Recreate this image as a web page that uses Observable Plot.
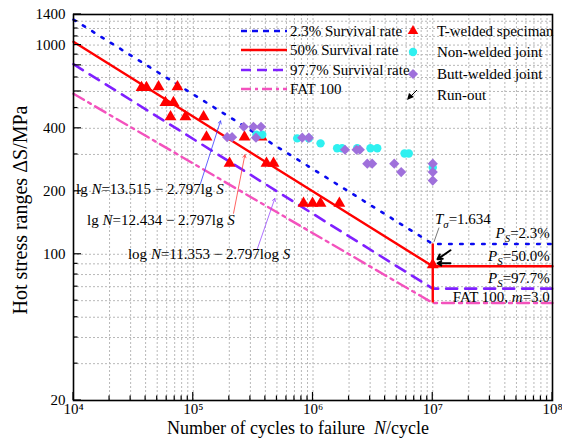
<!DOCTYPE html>
<html><head><meta charset="utf-8">
<script src="https://cdn.jsdelivr.net/npm/d3@7"></script>
<script src="https://cdn.jsdelivr.net/npm/@observablehq/plot@0.6"></script>
<style>
body{margin:0;background:#fff;}
#chart{width:562px;height:442px;}
</style></head><body><div id="chart"></div>
<script>
// ---------- data ----------
const curveN = [1e4, 1e7, 1e8];
const s23 = [1324, 112, 112];
const s50 = [1036, 87.6, 87.6];
const s977 = [810, 68.5, 68.5];
const sFAT = [585, 58.5, 58.5];
const tSigmaN = [1e7], tSigmaTop = [112], tSigmaBottom = [58.5];

const tWeldN = [37000, 40700, 51300, 73800, 58600, 68400, 64600, 86100, 122000, 129000, 268000, 372000, 201000, 409000, 468000, 833000, 991000, 1156000, 1660000, 1e7];
const tWeldS = [626, 626, 631, 631, 531, 531, 454, 454, 454, 363, 363, 363, 272, 272, 272, 175, 175, 175, 175, 89];

const nonWeldN = [337000, 377000, 738000, 923000, 1156000, 1590000, 1750000, 2340000, 3020000, 3440000, 5810000, 6310000, 1e7];
const nonWeldS = [373, 373, 358, 358, 339, 321, 321, 321, 321, 321, 303, 303, 260];

const buttN = [192000, 211000, 264000, 318000, 368000, 334000, 813000, 923000, 1850000, 2310000, 2460000, 2840000, 3120000, 4770000, 5450000, 1e7, 1e7, 1e7];
const buttS = [363, 363, 407, 407, 407, 361, 361, 361, 316, 316, 316, 271, 271, 271, 247, 271, 247, 225];

const runTailN = [1.406e7, 1.406e7], runTailS = [104.5, 90.6];
const runHeadN = [1.096e7, 1.096e7], runHeadS = [94.7, 90.6];

const xTicks = [1e4, 1e5, 1e6, 1e7, 1e8];
const yTicks = [20, 100, 200, 400, 600, 800, 1000, 1400];
const yMinor = [30, 40, 50, 60, 70, 80, 90, 300, 500, 700, 900, 1100, 1200, 1300];

// annotation arrows (tail -> tip) in data units
const annTailN = [115000, 217000, 342000], annTailS = [218, 157, 105.6];
const annTipN = [169000, 270000, 480000], annTipS = [434, 299, 185];
const annColor = ["#3a3aff", "#ff3b3b", "#9a4dff"];

// ---------- build ----------
const sup = {4:"⁴",5:"⁵",6:"⁶",7:"⁷",8:"⁸"};
const xMinor = [];
for (let e = 4; e < 8; e++) for (let k = 2; k <= 9; k++) xMinor.push(k * 10 ** e);
const gridX = xMinor.concat([1e5, 1e6, 1e7]);
const gridY = yMinor.concat(yTicks.filter(d => d > 20 && d < 1400));

const toRows = (xs, ys) => xs.map((N, i) => ({N, S: ys[i]}));
const FONT = "'Liberation Serif','Times New Roman',serif";

const plot = Plot.plot({
  width: 562, height: 442,
  marginLeft: 73, marginRight: 10, marginTop: 14, marginBottom: 42,
  style: {fontFamily: FONT, fontSize: "15px", background: "white", color: "black"},
  x: {type: "log", domain: [1e4, 1e8], ticks: xTicks, tickFormat: d => "10" + sup[Math.round(Math.log10(d))], tickSize: 0, tickPadding: 3, label: null},
  y: {type: "log", domain: [20, 1400], ticks: yTicks, tickFormat: d => String(d), tickSize: 0, tickPadding: 8, label: null},
  marks: [
    Plot.ruleX(gridX, {stroke: "#b8b8b8", strokeWidth: 1, strokeDasharray: "2,2"}),
    Plot.ruleY(gridY, {stroke: "#b8b8b8", strokeWidth: 1, strokeDasharray: "2,2"}),
    Plot.line(toRows(curveN, sFAT), {x: "N", y: "S", stroke: "#f352bd", strokeWidth: 2.4, strokeDasharray: "12,5,3,5"}),
    Plot.line(toRows(curveN, s977), {x: "N", y: "S", stroke: "#7f1fff", strokeWidth: 2.6, strokeDasharray: "11,8"}),
    Plot.line(toRows(curveN, s23), {x: "N", y: "S", stroke: "#0a0af0", strokeWidth: 2.6, strokeDasharray: "2.5,8.5"}),
    Plot.line(toRows(curveN, s50), {x: "N", y: "S", stroke: "#ff0000", strokeWidth: 2.4}),
    Plot.ruleX(tSigmaN.map((N, i) => ({N, top: tSigmaTop[i], bottom: tSigmaBottom[i]})), {x: "N", y1: "top", y2: "bottom", stroke: "#ff0000", strokeWidth: 2.4}),
    Plot.dot(toRows(tWeldN, tWeldS), {x: "N", y: "S", symbol: "triangle", r: 4.4, fill: "#ff0000", stroke: "none"}),
    Plot.dot(toRows(nonWeldN, nonWeldS), {x: "N", y: "S", symbol: "circle", r: 4.2, fill: "#2ff0f0", stroke: "none"}),
    Plot.dot(toRows(buttN, buttS), {x: "N", y: "S", symbol: "diamond2", r: 4.6, fill: "#9f70db", stroke: "none"}),
    Plot.arrow(runTailN.map((N, i) => ({x1: N, y1: runTailS[i], x2: runHeadN[i], y2: runHeadS[i]})), {x1: "x1", y1: "y1", x2: "x2", y2: "y2", stroke: "black", strokeWidth: 2, headLength: 8, bend: false}),
    Plot.arrow(annTailN.map((N, i) => ({x1: N, y1: annTailS[i], x2: annTipN[i], y2: annTipS[i], c: annColor[i]})), {x1: "x1", y1: "y1", x2: "x2", y2: "y2", stroke: "c", strokeWidth: 0.8, headLength: 6, bend: false}),
    Plot.frame({stroke: "black", strokeWidth: 1.6})
  ]
});
document.getElementById("chart").appendChild(plot);

// ---------- decorations through the plot's scales ----------
const svg = d3.select(plot);
const X = plot.scale("x"), Y = plot.scale("y");
const x0 = 73, y0 = 400;

const ticksG = svg.append("g").attr("stroke", "black").attr("stroke-width", 1.2);
xMinor.forEach(v => { const px = X.apply(v); ticksG.append("line").attr("x1", px).attr("x2", px).attr("y1", y0).attr("y2", y0 - 4.5); });
xTicks.forEach(v => { const px = X.apply(v); ticksG.append("line").attr("x1", px).attr("x2", px).attr("y1", y0).attr("y2", y0 - 8); });
yMinor.forEach(v => { const py = Y.apply(v); ticksG.append("line").attr("x1", x0).attr("x2", x0 + 4.5).attr("y1", py).attr("y2", py); });
yTicks.forEach(v => { const py = Y.apply(v); ticksG.append("line").attr("x1", x0).attr("x2", x0 + 8).attr("y1", py).attr("y2", py); });

function rich(x, y, parts, opts = {}) {
  const t = svg.append("text").attr("x", x).attr("y", y)
    .attr("font-family", FONT).attr("font-size", opts.size || 15)
    .attr("fill", "black").attr("text-anchor", opts.anchor || "start");
  if (opts.rotate) t.attr("transform", `rotate(-90,${x},${y})`);
  let shift = 0;
  parts.forEach(p => {
    const [txt, it, sub] = p;
    const s = t.append("tspan").text(txt);
    if (it) s.attr("font-style", "italic");
    const want = sub ? 4 : 0;
    if (want !== shift) { s.attr("dy", want - shift); shift = want; }
    if (sub) s.attr("font-size", (opts.size || 15) * 0.72);
  });
  return t;
}

// equations
rich(X.apply(10590), Y.apply(193.1), [["lg "], ["N", true], ["=13.515 − 2.797lg "], ["S", true]]);
rich(X.apply(13090), Y.apply(137.4), [["lg "], ["N", true], ["=12.434 − 2.797lg "], ["S", true]]);
rich(X.apply(28770), Y.apply(94.7), [["log "], ["N", true], ["=11.353 − 2.797log "], ["S", true]]);

// T sigma
rich(X.apply(1.054e7), Y.apply(138.9), [["T", true], ["σ", true, true], ["=1.634"]]);
svg.append("line").attr("x1", X.apply(1.139e7)).attr("y1", Y.apply(133.4)).attr("x2", X.apply(1.034e7)).attr("y2", Y.apply(114))
  .attr("stroke", "#555").attr("stroke-width", 0.8);

// Ps labels
const psX = X.apply(9.6e7);
rich(psX, Y.apply(119.2), [["P", true], ["S", true, true], ["=2.3%"]], {anchor: "end"});
rich(psX, Y.apply(92.6), [["P", true], ["S", true, true], ["=50.0%"]], {anchor: "end"});
rich(psX, Y.apply(72.8), [["P", true], ["S", true, true], ["=97.7%"]], {anchor: "end"});
rich(psX, Y.apply(59.1), [["FAT 100, "], ["m", true], ["=3.0"]], {anchor: "end"});

// axis titles
rich(298, 434, [["Number of cycles to failure  "], ["N", true], ["/cycle"]], {size: 18, anchor: "middle"});
rich(27, 210, [["Hot stress ranges ΔS/MPa"]], {size: 20, anchor: "middle", rotate: true});

// legend
const lg = svg.append("g").attr("text-anchor", "start");
const lines = [
  {y: 31, c: "#0a0af0", d: "6,5", w: 2.4, t: "2.3% Survival rate"},
  {y: 50, c: "#ff0000", d: null, w: 2.4, t: "50% Survival rate"},
  {y: 70, c: "#7f1fff", d: "10,6", w: 2.6, t: "97.7% Survival rate"},
  {y: 89, c: "#f352bd", d: "10,4,3,4", w: 2.4, t: "FAT 100"}
];
lines.forEach(l => {
  const ln = lg.append("line").attr("x1", 241).attr("x2", 287).attr("y1", l.y).attr("y2", l.y)
    .attr("stroke", l.c).attr("stroke-width", l.w);
  if (l.d) ln.attr("stroke-dasharray", l.d);
  lg.append("text").attr("x", 290).attr("y", l.y + 5).attr("text-anchor", "start").attr("font-family", FONT).attr("font-size", 15).text(l.t);
});
const sym = [
  {y: 31, t: "T-welded speciman", p: d3.symbol(d3.symbolTriangle2, 80)(), c: "#ff0000"},
  {y: 52, t: "Non-welded joint", p: d3.symbol(d3.symbolCircle, 55)(), c: "#2ff0f0"},
  {y: 74, t: "Butt-welded joint", p: d3.symbol(d3.symbolDiamond2, 66)(), c: "#9f70db"}
];
sym.forEach(s => {
  lg.append("path").attr("d", s.p).attr("fill", s.c).attr("transform", `translate(413,${s.y})`);
  lg.append("text").attr("x", 437).attr("y", s.y + 5).attr("text-anchor", "start").attr("font-family", FONT).attr("font-size", 15).text(s.t);
});
lg.append("line").attr("x1", 417).attr("y1", 90).attr("x2", 409).attr("y2", 98).attr("stroke", "black").attr("stroke-width", 1);
lg.append("path").attr("d", "M407,100 L409,93 L414,97 Z").attr("fill", "black");
lg.append("text").attr("x", 437).attr("y", 100).attr("text-anchor", "start").attr("font-family", FONT).attr("font-size", 15).text("Run-out");
</script>
</body></html>
